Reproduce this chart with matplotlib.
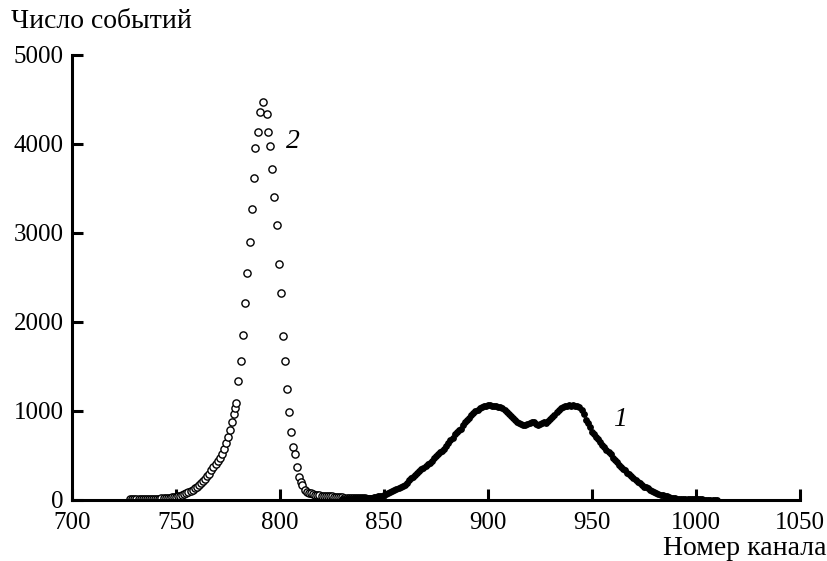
import numpy as np
import matplotlib
matplotlib.use('Agg')
import matplotlib.pyplot as plt

plt.rcParams['font.family'] = ['Liberation Serif', 'DejaVu Serif']

# ---- series 2 (open circles) ----
ch2_tail = list(range(728, 778))
val2_tail = [5, 5, 6, 6, 7, 7, 8, 8, 9, 10,
             11, 12, 13, 14, 15, 17, 19, 21, 23, 26,
             29, 33, 37, 42, 48, 55, 63, 72, 83, 96,
             112, 128, 146, 166, 188, 212, 238, 266, 296, 330,
             365, 400, 436, 472, 520, 570, 640, 710, 790, 880]
ch2_peak = [777.7, 778.3, 779.0, 780.0, 781.4, 782.0, 783.3, 784.1, 785.6, 786.4,
            787.5, 788.0, 789.3, 790.4, 792.0, 793.6, 794.4, 795.2, 796.3, 797.1,
            798.4, 799.4, 800.5, 801.3, 802.2, 803.2, 804.5, 805.3, 806.4, 807.2,
            808.0, 809.3, 810.0, 810.7, 812.0, 813.0]
val2_peak = [960, 1030, 1090, 1336, 1565, 1858, 2207, 2545, 2902, 3269,
             3622, 3960, 4133, 4355, 4467, 4339, 4133, 3979, 3720, 3401,
             3089, 2646, 2320, 1839, 1565, 1250, 987, 762, 593, 518,
             368, 255, 206, 169, 112, 92]
ch2_right = list(range(814, 850))
val2_right = [82, 72, 66, 60, 54, 49, 46, 44, 43, 42,
              40, 38, 36, 34, 32, 30, 28, 26, 24, 23,
              22, 21, 20, 19, 18, 17, 17, 16, 15, 15,
              14, 13, 13, 12, 12, 11]

# ---- series 1 (filled dots) ----
ch1 = list(range(830, 1011))
val1 = [12, 10, 14, 11, 15, 13, 16, 14, 18, 17,
        20, 19, 23, 22, 26, 30, 33, 38, 44, 48,
        55, 62, 72, 84, 98, 108, 122, 135, 148, 160,
        172, 190, 218, 242, 262, 280, 300, 322, 345, 362,
        378, 400, 418, 440, 470, 498, 515, 540, 552, 575,
        610, 640, 668, 700, 740, 765, 780, 800, 840, 870,
        895, 925, 950, 975, 995, 1010, 1030, 1040, 1050, 1060,
        1068, 1062, 1055, 1050, 1052, 1045, 1040, 1030, 1010, 985,
        965, 940, 915, 898, 880, 865, 858, 845, 842, 850,
        862, 878, 872, 850, 845, 848, 860, 870, 865, 885,
        910, 935, 955, 985, 1010, 1030, 1045, 1055, 1060, 1062,
        1058, 1065, 1060, 1058, 1045, 1010, 960, 900, 860, 820,
        760, 735, 705, 680, 655, 620, 590, 555, 540, 510,
        470, 450, 425, 395, 365, 350, 330, 305, 290, 265,
        240, 225, 205, 185, 170, 150, 140, 128, 112, 100,
        92, 80, 70, 60, 50, 44, 38, 30, 25, 20,
        18, 15, 12, 12, 10, 9, 8, 8, 7, 6,
        5, 5, 4, 4, 3, 3, 3, 2, 2, 2, 2]

xticks = [700, 750, 800, 850, 900, 950, 1000, 1050]
yticks = [0, 1000, 2000, 3000, 4000, 5000]

ch2 = ch2_tail + ch2_peak + ch2_right
val2 = val2_tail + val2_peak + val2_right

fig = plt.figure(figsize=(8.28, 5.61), dpi=100)
ax = fig.add_axes([0.087, 0.109, 0.879, 0.793])

ax.plot(ch2, val2, 'o', mfc='white', mec='black', ms=5.2, mew=1.0, linestyle='none')
ax.plot(ch1, val1, 'o', color='black', ms=3.9, linestyle='none')

ax.set_xlim(700, 1050)
ax.set_ylim(0, 5000)
ax.set_xticks(xticks)
ax.set_yticks(yticks)

ax.spines['top'].set_visible(False)
ax.spines['right'].set_visible(False)
ax.spines['left'].set_linewidth(2.2)
ax.spines['bottom'].set_linewidth(2.2)
ax.tick_params(direction='in', width=2.2, length=8, labelsize=18)
ax.tick_params(axis='x', pad=9)
ax.tick_params(axis='y', pad=6)

ax.text(960, 900, '1', fontsize=20, style='italic', ha='left', va='center')
ax.text(803, 4030, '2', fontsize=20, style='italic', ha='left', va='center')

fig.text(0.013, 0.961, 'Число событий', fontsize=20, ha='left', va='center')
fig.text(0.998, 0.022, 'Номер канала', fontsize=20, ha='right', va='center')

fig.savefig('out.png', dpi=100)
